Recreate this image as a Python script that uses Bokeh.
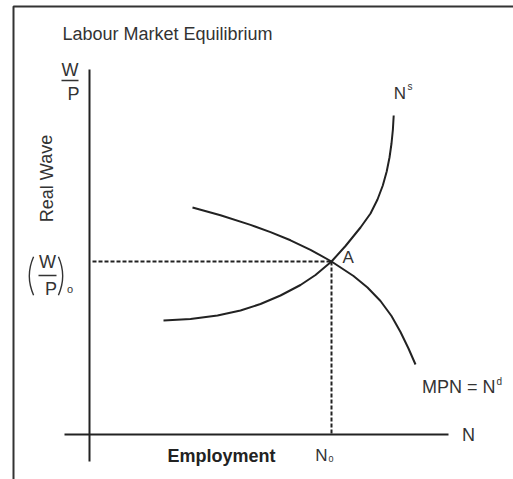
from bokeh.plotting import figure
from bokeh.models import Range1d
from bokeh.core.properties import value
from bokeh.embed import file_html
from bokeh.resources import INLINE

# ---- data (N = employment, W/P = real wage) ----
# Labour supply curve N^s
ns_n = [7.4, 10.1, 12.8, 15.1, 17.1, 19.1, 21.1, 22.6, 24.2, 25.6, 27.1, 28.1, 28.8, 29.33, 29.72, 30.0, 30.2, 30.34, 30.42]
ns_w = [11.4, 11.55, 11.9, 12.4, 13.05, 13.9, 14.95, 15.95, 17.3, 18.85, 20.7, 22.1, 23.5, 24.9, 26.3, 27.7, 29.1, 30.5, 31.9]
# Labour demand curve MPN = N^d
nd_n = [10.3, 13.1, 16.1, 18.1, 20.1, 22.1, 24.2, 26.4, 27.8, 29.1, 30.2, 31.1, 31.9, 32.6]
nd_w = [22.7, 21.92, 20.96, 20.24, 19.42, 18.47, 17.3, 15.85, 14.7, 13.35, 11.85, 10.25, 8.6, 7.0]
# Equilibrium
n0 = 24.2
w0 = 17.3
# Axis extents
x_axis = [-2.5, 35.9]
y_axis = [-2.7, 36.5]

FONT = value("Liberation Sans")
TXT = "#333333"
LN = "#222222"

p = figure(width=513, height=479, output_backend="svg", toolbar_location=None,
           x_range=Range1d(-8.9, 42.4), y_range=Range1d(-4.5, 43.4),
           min_border=0, margin=(0, 0, 0, 0))
p.xaxis.visible = False
p.yaxis.visible = False
p.grid.visible = False
p.outline_line_color = None
p.background_fill_color = "white"
p.border_fill_color = "white"

# frame
p.line([-7.6, -7.6, 42.4], [-4.6, 42.8, 42.8], line_color="#333333", line_width=2)

# axes
p.line([0, 0], y_axis, line_color=LN, line_width=2)
p.line(x_axis, [0, 0], line_color=LN, line_width=2)

# dashed guides
p.line([0.3, n0], [w0, w0], line_color=LN, line_width=2, line_dash="4 2")
p.line([n0, n0], [w0, 0], line_color=LN, line_width=2, line_dash="4 2")

# curves
p.line(ns_n, ns_w, line_color=LN, line_width=2, line_join="round")
p.line(nd_n, nd_w, line_color=LN, line_width=2, line_join="round")

def label(x, y, t, size=18, align="left", style="normal", angle=0.0, color=TXT):
    p.text(x=[x], y=[y], text=[t], text_font=FONT, text_font_size=f"{size}px",
           text_align=align, text_baseline="middle", text_font_style=style,
           angle=angle, text_color=color)

label(-2.7, 40.1, "Labour Market Equilibrium")

# y axis W/P label
label(-1.95, 36.5, "W", align="center")
p.line([-2.8, -1.1], [35.4, 35.4], line_color=TXT, line_width=1.3)
label(-1.6, 34.1, "P", align="center")
label(-4.3, 25.6, "Real Wave", align="center", angle=1.5708)

# (W/P)o
label(-4.2, 17.3, "W", align="center")
p.line([-5.1, -3.3], [15.9, 15.9], line_color=TXT, line_width=1.3)
label(-3.85, 14.6, "P", align="center")
label(-1.95, 14.6, "o", size=11, align="center")
p.arc(x=[-1.3], y=[15.85], radius=4.7, start_angle=3.1416 - 0.42, end_angle=3.1416 + 0.42,
      line_color=TXT, line_width=1.4)
p.arc(x=[-7.4], y=[15.85], radius=4.7, start_angle=-0.42, end_angle=0.42,
      line_color=TXT, line_width=1.4)

label(25.3, 17.7, "A", size=17)
label(31.65, 34.1, "N", size=17, align="right")
label(31.8, 34.85, "s", size=10)
label(40.6, 4.8, "MPN = N", align="right")
label(40.7, 5.3, "d", size=10)
label(37.25, 0.0, "N")
label(7.8, -2.1, "Employment", style="bold", color="#222222")
label(23.8, -2.1, "N", size=17, align="right")
label(23.9, -2.4, "0", size=9)

open("out.html", "w").write(file_html(p, INLINE))
